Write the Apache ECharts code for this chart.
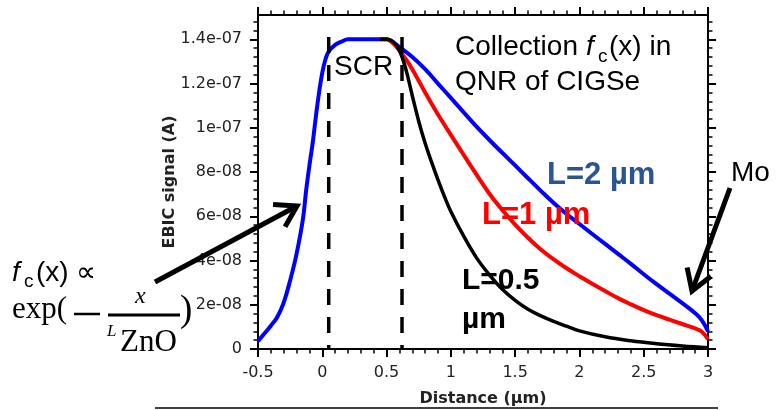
<!DOCTYPE html>
<html>
<head>
<meta charset="utf-8">
<script src="https://cdn.jsdelivr.net/npm/echarts@6/dist/echarts.min.js"></script>
<style>
  html, body { margin: 0; padding: 0; background: #fff; }
  #chart { width: 777px; height: 410px; }
</style>
</head>
<body>
<div id="chart"></div>
<script>
// EBIC line scans across the cell (distance in µm, signal in A)
const distL2 = [-0.5, -0.45, -0.4, -0.35, -0.3, -0.25, -0.2, -0.15, -0.125, -0.1, -0.075, -0.05, -0.025, 0, 0.025, 0.05, 0.1, 0.15, 0.2, 0.3, 0.4, 0.5, 0.55, 0.6, 0.7, 0.8, 0.9, 1.0, 1.1, 1.2, 1.3, 1.4, 1.5, 1.6, 1.7, 1.8, 1.9, 2.0, 2.1, 2.2, 2.3, 2.4, 2.5, 2.6, 2.7, 2.8, 2.9, 2.95, 3.0];
const ebicL2 = [3.5e-9, 7e-9, 1.05e-8, 1.45e-8, 2.1e-8, 3.1e-8, 4.3e-8, 5.9e-8, 7.2e-8, 8.3e-8, 9.3e-8, 1.05e-7, 1.16e-7, 1.25e-7, 1.31e-7, 1.345e-7, 1.375e-7, 1.39e-7, 1.4e-7, 1.4e-7, 1.4e-7, 1.4e-7, 1.387e-7, 1.365e-7, 1.32e-7, 1.265e-7, 1.2e-7, 1.135e-7, 1.07e-7, 1.005e-7, 9.45e-8, 8.87e-8, 8.3e-8, 7.72e-8, 7.15e-8, 6.6e-8, 6.1e-8, 5.65e-8, 5.2e-8, 4.75e-8, 4.3e-8, 3.85e-8, 3.38e-8, 2.93e-8, 2.5e-8, 2.07e-8, 1.62e-8, 1.32e-8, 8e-9];

const distL1 = [0.45, 0.5, 0.55, 0.6, 0.65, 0.7, 0.8, 0.9, 1.0, 1.1, 1.2, 1.3, 1.4, 1.5, 1.6, 1.7, 1.8, 1.9, 2.0, 2.1, 2.2, 2.3, 2.4, 2.5, 2.6, 2.7, 2.8, 2.9, 2.95, 3.0];
const ebicL1 = [1.4e-7, 1.4e-7, 1.382e-7, 1.35e-7, 1.31e-7, 1.265e-7, 1.16e-7, 1.06e-7, 9.68e-8, 8.78e-8, 7.88e-8, 7.02e-8, 6.28e-8, 5.62e-8, 5.03e-8, 4.5e-8, 4.05e-8, 3.65e-8, 3.29e-8, 2.95e-8, 2.62e-8, 2.3e-8, 2.02e-8, 1.76e-8, 1.53e-8, 1.33e-8, 1.13e-8, 9.3e-9, 7.9e-9, 4.5e-9];

const distL05 = [0.45, 0.5, 0.55, 0.6, 0.65, 0.7, 0.75, 0.8, 0.85, 0.9, 0.95, 1.0, 1.1, 1.2, 1.3, 1.4, 1.5, 1.6, 1.7, 1.8, 1.9, 2.0, 2.2, 2.4, 2.6, 2.8, 3.0];
const ebicL05 = [1.4e-7, 1.4e-7, 1.39e-7, 1.35e-7, 1.265e-7, 1.145e-7, 1.03e-7, 9.3e-8, 8.45e-8, 7.65e-8, 6.9e-8, 6.22e-8, 5.1e-8, 4.12e-8, 3.35e-8, 2.7e-8, 2.2e-8, 1.8e-8, 1.5e-8, 1.25e-8, 1.03e-8, 8.2e-9, 5.5e-9, 3.7e-9, 2.4e-9, 1.4e-9, 6e-10];

// Space-charge-region boundaries (µm) and height of the marker lines (A)
const scrEdges = [0.05, 0.62];
const scrTop = 1.41e-7;

// Axis ticks and labels
const xTicks = [-0.5, 0, 0.5, 1, 1.5, 2, 2.5, 3];
const xTickLabels = ['-0.5', '0', '0.5', '1', '1.5', '2', '2.5', '3'];
const yTicks = [0, 2e-8, 4e-8, 6e-8, 8e-8, 1e-7, 1.2e-7, 1.4e-7];
const yTickLabels = ['0', '2e-08', '4e-08', '6e-08', '8e-08', '1e-07', '1.2e-07', '1.4e-07'];
const yMinorStep = 4e-9;
const yMax = 1.51e-7;

const yMinorTicks = [];
for (let i = 0; i * yMinorStep <= yMax; i++) yMinorTicks.push(+(i * yMinorStep).toPrecision(6));

const pairs = (xs, ys) => xs.map((x, i) => [x, ys[i]]);

const chart = echarts.init(document.getElementById('chart'), null, { renderer: 'canvas' });

const AX = '#000';
const LABEL_COLOR = '#222';
const tickFont = 'DejaVu Sans';
const annFont = 'Liberation Sans, Arial, sans-serif';
const mathFont = 'Liberation Serif, DejaVu Serif, serif';

function xAxisCfg(pos, withLabels) {
  return {
    type: 'value', position: pos, min: -0.5, max: 3, interval: 0.5,
    axisLine: { show: true, onZero: false, lineStyle: { color: AX, width: 2 } },
    axisTick: { show: true, inside: false, length: 8, lineStyle: { color: AX, width: 2 } },
    minorTick: { show: true, splitNumber: 5, length: 4.5, lineStyle: { color: AX, width: 1.5 } },
    splitLine: { show: false }, minorSplitLine: { show: false },
    axisLabel: withLabels ? {
      show: true, margin: 16, fontSize: 16, fontFamily: tickFont, color: LABEL_COLOR,
      formatter: v => { const i = xTicks.findIndex(t => Math.abs(t - v) < 1e-9); return i >= 0 ? xTickLabels[i] : ''; }
    } : { show: false },
    name: withLabels ? 'Distance (µm)' : '',
    nameLocation: 'middle', nameGap: 42, nameMoveOverlap: false,
    nameTextStyle: { fontFamily: tickFont, fontWeight: 'bold', fontSize: 16, color: LABEL_COLOR }
  };
}

function yAxisCfg(pos, major, withLabels) {
  return {
    type: 'value', position: pos, min: 0, max: yMax, interval: 2e-8,
    axisLine: { show: true, onZero: false, lineStyle: { color: AX, width: 2 } },
    axisTick: { show: true, inside: false, length: major ? 8 : 4.5,
      customValues: major ? yTicks : yMinorTicks,
      lineStyle: { color: AX, width: major ? 2 : 1.5 } },
    splitLine: { show: false },
    axisLabel: withLabels ? {
      show: true, margin: 16, fontSize: 16, fontFamily: tickFont, color: LABEL_COLOR,
      customValues: yTicks,
      formatter: v => { const i = Math.round(v / 2e-8); return yTickLabels[i] !== undefined ? yTickLabels[i] : ''; }
    } : { show: false },
    name: withLabels ? 'EBIC signal (A)' : '',
    nameLocation: 'middle', nameGap: 80, nameRotate: 90, nameMoveOverlap: false,
    nameTextStyle: { fontFamily: tickFont, fontWeight: 'bold', fontSize: 16, color: LABEL_COLOR }
  };
}

// Arrow as a thick shaft plus an open V head
function arrow(tail, tip, headLen, width) {
  const dx = tip[0] - tail[0], dy = tip[1] - tail[1];
  const len = Math.hypot(dx, dy);
  const ux = dx / len, uy = dy / len;
  const ang = 32 * Math.PI / 180;
  const back = (a) => [tip[0] - headLen * (ux * Math.cos(a) - uy * Math.sin(a)),
                       tip[1] - headLen * (uy * Math.cos(a) + ux * Math.sin(a))];
  const st = { stroke: '#000', lineWidth: width, lineCap: 'butt', lineJoin: 'miter', fill: null };
  return [
    { type: 'polyline', shape: { points: [tail, tip] }, style: st, z: 100 },
    { type: 'polyline', shape: { points: [back(ang), tip, back(-ang)] }, style: st, z: 100 }
  ];
}

function txt(x, y, text, font, fill, extra) {
  return Object.assign({ type: 'text', z: 100,
    style: { x, y, text, font, fill: fill || '#000', verticalAlign: 'middle', align: 'left' } }, extra || {});
}

const curveStyle = { type: 'line', showSymbol: false, smooth: 0.4 };

const option = {
  animation: false,
  backgroundColor: '#fff',
  grid: { left: 258, right: 69, top: 15, bottom: 61, containLabel: false, outerBoundsMode: 'none' },
  xAxis: [xAxisCfg('bottom', true), xAxisCfg('top', false)],
  yAxis: [yAxisCfg('left', true, true), yAxisCfg('left', false, false),
          yAxisCfg('right', true, false), yAxisCfg('right', false, false)],
  series: [
    Object.assign({ name: 'L=2 µm', data: pairs(distL2, ebicL2),
      lineStyle: { color: '#0000ff', width: 4 }, z: 3 }, curveStyle),
    Object.assign({ name: 'L=1 µm', data: pairs(distL1, ebicL1),
      lineStyle: { color: '#ff0000', width: 4 }, z: 4 }, curveStyle),
    Object.assign({ name: 'L=0.5 µm', data: pairs(distL05, ebicL05),
      lineStyle: { color: '#000000', width: 3.5 }, z: 5 }, curveStyle),
    ...scrEdges.map(x0 => ({
      type: 'line', data: [[x0, scrTop], [x0, 0]], showSymbol: false, silent: true,
      lineStyle: { color: '#000', width: 3.5, type: [16, 12] }, z: 6
    }))
  ],
  graphic: [
    txt(334, 67, 'SCR', '28px ' + annFont),
    txt(455, 47, 'Collection ', '28px ' + annFont),
    txt(586, 47, 'f', 'italic 28px ' + annFont),
    txt(598, 57, 'c', '19px ' + annFont),
    txt(609, 47, '(x) in', '28px ' + annFont),
    txt(455, 82, 'QNR of CIGSe', '28px ' + annFont),
    txt(547, 175, 'L=2 µm', 'bold 31px ' + annFont, '#2b5592'),
    txt(482, 215, 'L=1 µm', 'bold 31px ' + annFont, '#ff0000'),
    txt(462, 281, 'L=0.5', 'bold 30px ' + annFont, '#000'),
    txt(462, 320, 'µm', 'bold 30px ' + annFont, '#000'),
    txt(731, 173, 'Mo', '28px ' + annFont),
    // collection function near the front contact
    txt(12, 273, 'f', 'italic 28px ' + annFont),
    txt(24, 282, 'c', '19px ' + annFont),
    txt(36, 273, '(x) ∝', '28px ' + annFont),
    txt(12, 310, 'exp(', '31px ' + mathFont),
    { type: 'line', shape: { x1: 74, y1: 314, x2: 100, y2: 314 }, style: { stroke: '#000', lineWidth: 2.5 }, z: 100 },
    txt(135, 297, 'x', 'italic 24px ' + mathFont),
    { type: 'line', shape: { x1: 108, y1: 315, x2: 180, y2: 315 }, style: { stroke: '#000', lineWidth: 3 }, z: 100 },
    txt(107, 332, 'L', 'italic 17px ' + mathFont),
    txt(120, 343, 'ZnO', '31px ' + mathFont),
    txt(180, 311, ')', '37px ' + mathFont),
    ...arrow([155, 282], [297, 206], 24, 5),
    ...arrow([730, 188], [692, 291], 24, 5),
    { type: 'line', shape: { x1: 155, y1: 408, x2: 718, y2: 408 }, style: { stroke: '#000', lineWidth: 1.5 }, z: 100 }
  ]
};

chart.setOption(option);
</script>
</body>
</html>
